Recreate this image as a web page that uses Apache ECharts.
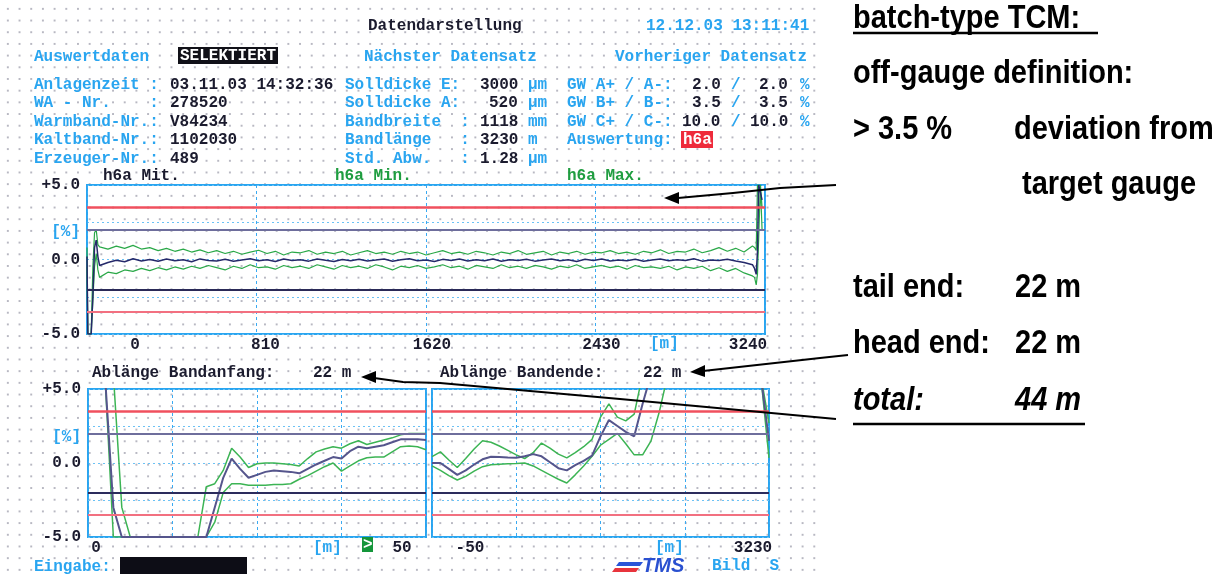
<!DOCTYPE html>
<html>
<head>
<meta charset="utf-8">
<script src="https://cdn.jsdelivr.net/npm/echarts@6/dist/echarts.min.js"></script>
<style>
  html, body { margin: 0; padding: 0; background: #fff; }
  #dots { position: absolute; left: 0; top: 0; width: 818px; height: 574px;
          background-image: radial-gradient(circle at center, #b8b8c2 0, #b8b8c2 0.9px, transparent 1.4px);
          background-size: 11.7px 11.7px; background-position: 2px 3px; }
  #c { position: absolute; left: 0; top: 0; width: 1220px; height: 574px; }
</style>
</head>
<body>
<div id="dots"></div>
<div id="c"></div>
<script>
// ---- h6a thickness deviation [%], whole strip (positions in m) ----
const fullHeadPos = [0, 4, 12, 20, 28, 36, 44, 52];
const fullHeadMax = [0.8, -5, -5, -5, -0.5, 1.8, 2.0, 1.0];
const fullHeadMit = [0.2, -5, -5, -5, -2.5, 0.8, 1.3, 0.2];
const fullHeadMin = [-0.5, -5, -5, -5, -5, -0.5, 0.4, -0.7];

const fullBodyStart = 60;
const fullBodyStep = 40;
const fullBodyMax = [
  0.85, 0.70, 0.90, 0.75, 0.95, 0.70, 0.80, 0.60, 0.75, 0.55,
  0.70, 0.50, 0.65, 0.45, 0.60, 0.40, 0.55, 0.35, 0.50, 0.62,
  0.40, 0.55, 0.30, 0.50, 0.45, 0.60, 0.35, 0.50, 0.40, 0.55,
  0.30, 0.45, 0.60, 0.40, 0.50, 0.35, 0.55, 0.40, 0.50, 0.30,
  0.45, 0.60, 0.40, 0.50, 0.35, 0.55, 0.45, 0.30, 0.50, 0.40,
  0.60, 0.35, 0.45, 0.55, 0.30, 0.50, 0.40, 0.55, 0.35, 0.50,
  0.45, 0.60, 0.40, 0.50, 0.35, 0.55, 0.45, 0.65, 0.40, 0.55,
  0.50, 0.70, 0.45, 0.60, 0.80, 0.55, 0.75, 0.50, 0.90
];
const fullBodyMin = [
  -1.20, -0.85, -0.95, -0.70, -0.80, -0.60, -0.75, -0.55, -0.70, -0.50,
  -0.65, -0.45, -0.60, -0.40, -0.55, -0.70, -0.45, -0.60, -0.35, -0.55,
  -0.50, -0.65, -0.40, -0.55, -0.45, -0.60, -0.35, -0.50, -0.65, -0.40,
  -0.55, -0.45, -0.60, -0.35, -0.50, -0.70, -0.45, -0.55, -0.40, -0.60,
  -0.50, -0.35, -0.55, -0.45, -0.65, -0.40, -0.50, -0.60, -0.35, -0.55,
  -0.45, -0.60, -0.40, -0.50, -0.65, -0.45, -0.55, -0.35, -0.60, -0.50,
  -0.40, -0.55, -0.45, -0.65, -0.40, -0.55, -0.50, -0.60, -0.45, -0.70,
  -0.50, -0.60, -0.45, -0.75, -0.55, -0.80, -0.60, -0.90, -1.10
];
const fullBodyMit = [
  -0.40, -0.20, -0.05, -0.15, 0.05, -0.10, 0.00, -0.12, 0.03, -0.08,
  -0.02, -0.15, 0.04, -0.06, -0.10, 0.02, -0.12, -0.03, 0.05, -0.09,
  -0.01, -0.14, 0.03, -0.07, -0.02, -0.11, 0.04, -0.05, -0.13, 0.00,
  -0.08, 0.02, -0.10, -0.04, 0.03, -0.12, -0.02, 0.05, -0.09, -0.03,
  -0.14, 0.01, -0.06, 0.03, -0.10, -0.02, -0.08, 0.04, -0.12, -0.01,
  -0.07, 0.02, -0.11, -0.04, 0.03, -0.09, -0.02, -0.13, 0.01, -0.06,
  0.04, -0.10, -0.03, -0.08, 0.02, -0.12, -0.04, 0.03, -0.09, -0.01,
  -0.07, 0.05, -0.11, -0.03, -0.06, 0.02, -0.10, -0.20, -0.35
];

const fullTailPos = [3190, 3198, 3204, 3210, 3218, 3226];
const fullTailMax = [0.80, 0.60, 5.00, 5.00, 5.00, 3.50];
const fullTailMit = [-0.60, -1.00, 0.50, 5.00, 5.00, 4.00];
const fullTailMin = [-1.20, -1.70, -1.00, 1.50, 5.00, 2.00];

// ---- zoomed ends: first 50 m and last 50 m, sampled every 1.25 m ----
const endStep = 1.25;
const headEndMit = [
  6, 6, 6, -3, -5, -5, -5, -5, -5, -5,
  -5, -5, -5, -5, -5, -3.0, -1.0, 0.3, -0.4, -1.0,
  -0.8, -0.6, -0.5, -0.55, -0.6, -0.7, -0.4, -0.1, 0.15, 0.4,
  0.3, 0.8, 1.1, 1.0, 1.1, 1.2, 1.4, 1.6, 1.6, 1.6,
  1.55
];
const headEndMax = [
  6, 6, 6, 6, -3, -5, -5, -5, -5, -5,
  -5, -5, -5, -5, -1.6, -1.4, -0.5, 1.0, 0.4, -0.3,
  -0.05, 0.0, 0.0, -0.05, -0.1, -0.2, 0.3, 0.75, 0.95, 1.1,
  1.0, 1.3, 1.5, 1.25, 1.4, 1.55, 1.7, 1.9, 2.0, 2.0,
  2.0
];
const headEndMin = [
  6, 6, 6, -5, -5, -5, -5, -5, -5, -5,
  -5, -5, -5, -5, -5, -4.0, -2.0, -1.4, -1.4, -1.5,
  -1.5, -1.5, -1.45, -1.45, -1.4, -1.1, -0.85, -0.55, -0.25, 0.0,
  -0.55, -0.2, 0.15, 0.35, 0.4, 0.4, 0.75, 1.1, 1.15, 1.1,
  0.9
];
const tailEndMit = [
  0.0, 0.0, -0.4, -0.8, -0.5, -0.1, 0.25, 0.42, 0.4, 0.37,
  0.35, 0.45, 0.6, 0.45, 0.05, -0.35, -0.5, -0.15, 0.15, 0.5,
  1.8, 2.9, 2.5, 2.1, 1.8, 4.0, 6, 6, 6, 6,
  6, 6, 6, 6, 6, 6, 6, 6, 6, 6,
  1.5
];
const tailEndMax = [
  0.43, 0.75, 0.2, -0.3, 0.3, 0.95, 1.5, 1.4, 1.15, 0.85,
  0.55, 0.3, 0.7, 1.35, 1.0, 0.6, 0.35, 0.7, 1.1, 1.6,
  3.1, 4.0, 3.1, 2.85, 3.3, 6, 6, 6, 6, 6,
  6, 6, 6, 6, 6, 6, 6, 6, 6, 6,
  2.7
];
const tailEndMin = [
  -0.2, -0.5, -0.85, -1.15, -0.9, -0.55, -0.25, -0.12, -0.08, -0.05,
  -0.03, 0.0, -0.2, -0.5, -0.8, -1.1, -1.35, -0.8, -0.2, 0.45,
  1.2, 1.6, 2.0, 1.3, 0.55, 0.55, 1.5, 3.5, 6, 6,
  6, 6, 6, 6, 6, 6, 6, 6, 6, 6,
  0.35
];

// tolerance limits [%]: GW A and GW B
const limitA = 2.0;
const limitB = 3.5;

// tick labels
const yTickLabels = ['-5.0', '', '0.0', '[%]', '+5.0'];
const fullTickLabels = ['0', '810', '1620', '2430', '3240'];
const headTickLabels = ['0', '', '', '', '50'];
const tailTickLabels = ['-50', '', '', '', '3230'];

// ---------------------------------------------------------------
const CYAN = '#29a5f0', INK = '#1b1b2e', GREEN = '#1f9d40', RED = '#f0505e';
const MONO = '"Liberation Mono", "DejaVu Sans Mono", monospace';
const SANS = '"Liberation Sans", Arial, sans-serif';

const pairs = (pos, vals) => vals.map((v, i) => [pos[i], v]);
const stepPairs = (start, step, vals) => vals.map((v, i) => [start + i * step, v]);

const fullMax = pairs(fullHeadPos, fullHeadMax).concat(stepPairs(fullBodyStart, fullBodyStep, fullBodyMax), pairs(fullTailPos, fullTailMax));
const fullMit = pairs(fullHeadPos, fullHeadMit).concat(stepPairs(fullBodyStart, fullBodyStep, fullBodyMit), pairs(fullTailPos, fullTailMit));
const fullMin = pairs(fullHeadPos, fullHeadMin).concat(stepPairs(fullBodyStart, fullBodyStep, fullBodyMin), pairs(fullTailPos, fullTailMin));

const labelFont = { fontFamily: MONO, fontWeight: 'bold', fontSize: 16, color: INK };

function yAxisFor(gi, showLabels, pctPad) {
  return {
    gridIndex: gi, type: 'value', min: -5, max: 5, interval: 2.5,
    axisLine: { show: false }, axisTick: { show: false },
    splitLine: { show: true, lineStyle: { color: '#6cc2f5', type: [2, 3], width: 1 } },
    axisLabel: {
      show: showLabels, margin: 7, ...labelFont,
      formatter: v => {
        const s = yTickLabels[Math.round((v + 5) / 2.5)];
        return s === '[%]' ? '{u|[%]}' : s;
      },
      rich: { u: { ...labelFont, color: CYAN, padding: [pctPad, 0, 0, 0] } }
    }
  };
}

function xAxisFor(gi, min, max, interval, labels, pads) {
  const rich = {};
  pads.forEach((p, i) => { rich['p' + i] = { ...labelFont, padding: p }; });
  return {
    gridIndex: gi, type: 'value', min, max, interval,
    axisLine: { show: false }, axisTick: { show: false },
    splitLine: { show: true, lineStyle: { color: '#3aaaf2', type: [3, 3], width: 1 } },
    axisLabel: {
      margin: 3, ...labelFont, showMinLabel: true, showMaxLabel: true,
      formatter: v => {
        const i = Math.round((v - min) / interval);
        return labels[i] ? '{p' + i + '|' + labels[i] + '}' : '';
      },
      rich
    }
  };
}

function limitLines(bottomColor) {
  return {
    symbol: ['none', 'none'], silent: true, label: { show: false }, animation: false,
    data: [
      { yAxis: limitB, lineStyle: { color: RED, width: 2.5, type: 'solid' } },
      { yAxis: -limitB, lineStyle: { color: '#f27080', width: 2, type: 'solid' } },
      { yAxis: limitA, lineStyle: { color: '#6e6e9c', width: 2, type: 'solid' } },
      { yAxis: -limitA, lineStyle: { color: bottomColor, width: 2, type: 'solid' } }
    ]
  };
}

function line(name, xi, data, color, width, extra) {
  return Object.assign({
    name, type: 'line', xAxisIndex: xi, yAxisIndex: xi, data,
    showSymbol: false, symbol: 'none', clip: true, animation: false,
    lineStyle: { color, width }
  }, extra || {});
}

const headEndData = k => stepPairs(0, endStep, k);
const tailEndData = k => stepPairs(-50, endStep, k);

// ---- text overlays ----
const G = [];
function t(x, y, s, color, opt) {
  G.push(Object.assign({ type: 'text', x, y, z: 100, style: Object.assign({
    text: s, fill: color, font: 'bold 16px ' + MONO, align: 'left', verticalAlign: 'middle'
  }, (opt && opt.style) || {}) }, (opt && opt.el) || {}));
}
function box(x, y, w, h, fill) {
  G.push({ type: 'rect', z: 99, shape: { x, y, width: w, height: h }, style: { fill } });
}

t(368, 26, 'Datendarstellung', INK);
t(646, 26, '12.12.03 13:11:41', CYAN);
t(34, 57, 'Auswertdaten', CYAN);
box(178, 47, 100, 17, '#111118');
t(180, 56, 'SELEKTIERT', '#ffffff');
t(364, 57, 'Nächster Datensatz', CYAN);
t(615, 57, 'Vorheriger Datensatz', CYAN);

t(34, 85, 'Anlagenzeit :', CYAN);  t(170, 85, '03.11.03 14:32:36', INK);
t(345, 85, 'Solldicke E:', CYAN);  t(480, 85, '3000', INK); t(528, 85, 'µm', CYAN);
t(567, 85, 'GW A+ / A-:', CYAN);   t(692, 85, '2.0', INK); t(731, 85, '/', CYAN); t(759, 85, '2.0', INK); t(800, 85, '%', CYAN);

t(34, 103, 'WA - Nr.    :', CYAN); t(170, 103, '278520', INK);
t(345, 103, 'Solldicke A:', CYAN); t(489, 103, '520', INK); t(528, 103, 'µm', CYAN);
t(567, 103, 'GW B+ / B-:', CYAN);  t(692, 103, '3.5', INK); t(731, 103, '/', CYAN); t(759, 103, '3.5', INK); t(800, 103, '%', CYAN);

t(34, 122, 'Warmband-Nr.:', CYAN); t(170, 122, 'V84234', INK);
t(345, 122, 'Bandbreite  :', CYAN); t(480, 122, '1118', INK); t(528, 122, 'mm', CYAN);
t(567, 122, 'GW C+ / C-:', CYAN);  t(682, 122, '10.0', INK); t(731, 122, '/', CYAN); t(750, 122, '10.0', INK); t(800, 122, '%', CYAN);

t(34, 140, 'Kaltband-Nr.:', CYAN); t(170, 140, '1102030', INK);
t(345, 140, 'Bandlänge   :', CYAN); t(480, 140, '3230', INK); t(528, 140, 'm', CYAN);
t(567, 140, 'Auswertung:', CYAN);
box(681, 131, 32, 17, '#ee2b3b');
t(683, 140, 'h6a', '#ffffff');

t(34, 159, 'Erzeuger-Nr.:', CYAN); t(170, 159, '489', INK);
t(345, 159, 'Std. Abw.   :', CYAN); t(480, 159, '1.28', INK); t(528, 159, 'µm', CYAN);

t(103, 176, 'h6a Mit.', INK);
t(335, 176, 'h6a Min.', GREEN);
t(567, 176, 'h6a Max.', GREEN);
t(650, 344, '[m]', CYAN);

t(92, 373, 'Ablänge Bandanfang:', INK);
t(313, 373, '22 m', INK);
t(440, 373, 'Ablänge Bandende:', INK);
t(643, 373, '22 m', INK);
t(313, 548, '[m]', CYAN);
box(362, 537, 11, 15, '#14963a');
t(363, 545, '>', '#ffffff');
t(655, 548, '[m]', CYAN);

t(34, 567, 'Eingabe:', CYAN);
box(120, 557, 127, 17, '#0d0d16');
t(712, 566, 'Bild  S', CYAN);
// TMS logo
G.push({ type: 'polygon', z: 100, shape: { points: [[612, 572], [636, 572], [639, 568], [615, 568]] }, style: { fill: '#e8343c' } });
G.push({ type: 'polygon', z: 100, shape: { points: [[616, 566], [640, 566], [643, 562], [619, 562]] }, style: { fill: '#2a55d8' } });
t(642, 566, 'TMS', '#2a50d0', { style: { font: 'italic bold 20px ' + SANS } });

// right-hand notes
const big = 'bold 29px ' + SANS;
const bigIt = 'italic bold 29px ' + SANS;
function note(x, y, s, font) {
  G.push({ type: 'text', x, y, z: 100, scaleY: 1.14, style: { text: s, fill: '#000', font, align: 'left', verticalAlign: 'bottom' } });
}
note(853, 35, 'batch-type TCM:', big);
note(853, 90, 'off-gauge definition:', big);
note(853, 146, '> 3.5 %', big);
note(1014, 146, 'deviation from', big);
note(1022, 201, 'target gauge', big);
note(853, 304, 'tail end:', big);
note(1015, 304, '22 m', big);
note(853, 360, 'head end:', big);
note(1015, 360, '22 m', big);
note(853, 417, 'total:', bigIt);
note(1015, 417, '44 m', bigIt);
G.push({ type: 'line', z: 100, shape: { x1: 853, y1: 33, x2: 1098, y2: 33 }, style: { stroke: '#000', lineWidth: 2.5 } });
G.push({ type: 'line', z: 100, shape: { x1: 853, y1: 424, x2: 1085, y2: 424 }, style: { stroke: '#000', lineWidth: 2.5 } });

// arrows
function arrow(points, tip, dir) {
  G.push({ type: 'polyline', z: 101, shape: { points }, style: { stroke: '#000', lineWidth: 2, fill: null } });
  const [tx, ty] = tip;
  G.push({ type: 'polygon', z: 101, shape: { points: [[tx, ty], [tx + 15, ty - 6 + dir], [tx + 15, ty + 6 + dir]] }, style: { fill: '#000' } });
}
arrow([[836, 185], [780, 188], [733, 193], [678, 198]], [664, 198], 0);
arrow([[848, 355], [820, 358], [703, 371]], [690, 372], -1);
arrow([[836, 419], [620, 399], [440, 383], [403, 382], [374, 378]], [361, 377], 0);

// ---------------------------------------------------------------
const chart = echarts.init(document.getElementById('c'));
chart.setOption({
  backgroundColor: 'transparent',
  animation: false,
  grid: [
    { left: 87, top: 185, width: 678, height: 149, show: true, borderColor: CYAN, borderWidth: 2, backgroundColor: 'transparent', containLabel: false, outerBoundsMode: 'none' },
    { left: 88, top: 389, width: 338, height: 148, show: true, borderColor: CYAN, borderWidth: 2, backgroundColor: 'transparent', containLabel: false, outerBoundsMode: 'none' },
    { left: 432, top: 389, width: 337, height: 148, show: true, borderColor: CYAN, borderWidth: 2, backgroundColor: 'transparent', containLabel: false, outerBoundsMode: 'none' }
  ],
  xAxis: [
    xAxisFor(0, 0, 3240, 810, fullTickLabels, [[0, 0, 0, 96], [0, 0, 0, 18], [0, 0, 0, 12], [0, 0, 0, 12], [0, 34, 0, 0]]),
    xAxisFor(1, 0, 50, 12.5, headTickLabels, [[0, 0, 0, 16], [0], [0], [0], [0, 48, 0, 0]]),
    xAxisFor(2, -50, 0, 12.5, tailTickLabels, [[0, 0, 0, 76], [0], [0], [0], [0, 32, 0, 0]])
  ],
  yAxis: [
    yAxisFor(0, true, 20),
    yAxisFor(1, true, 22),
    yAxisFor(2, false, 0)
  ],
  series: [
    line('h6a Min.', 0, fullMin, '#2aa848', 1.2, { markLine: limitLines('#2a2a58') }),
    line('h6a Max.', 0, fullMax, '#2aa848', 1.2),
    line('h6a Mit.', 0, fullMit, '#25296a', 1.5),
    line('h6a Min.', 1, headEndData(headEndMin), '#3cb454', 1.5, { markLine: limitLines('#2c2c5c') }),
    line('h6a Max.', 1, headEndData(headEndMax), '#3cb454', 1.5),
    line('h6a Mit.', 1, headEndData(headEndMit), '#55558c', 2),
    line('h6a Min.', 2, tailEndData(tailEndMin), '#3cb454', 1.5, { markLine: limitLines('#2c2c5c') }),
    line('h6a Max.', 2, tailEndData(tailEndMax), '#3cb454', 1.5),
    line('h6a Mit.', 2, tailEndData(tailEndMit), '#55558c', 2)
  ],
  graphic: G
});
</script>
</body>
</html>
